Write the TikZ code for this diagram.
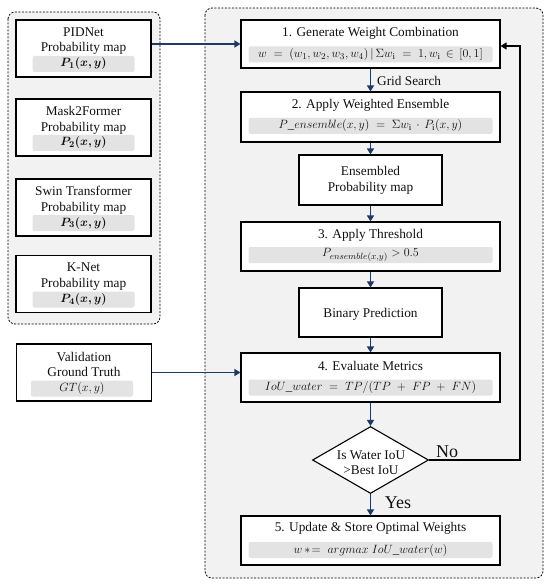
\documentclass[tikz,border=0pt]{standalone}
\usepackage{fontspec}
\setmainfont{Liberation Serif}[Ligatures=TeX]
\newfontfamily\tms{Liberation Serif}
\usepackage{amsmath,bm}
\usetikzlibrary{arrows.meta,shapes.geometric}
\definecolor{navy}{HTML}{1F3864}
\definecolor{grpbg}{HTML}{F2F2F2}
\definecolor{barbg}{HTML}{E3E3E3}
\definecolor{txt}{HTML}{111111}
\begin{document}
\begin{tikzpicture}[x=1pt,y=-1pt,
  every node/.style={font=\tms\fontsize{13.3}{15.7}\selectfont, inner sep=0pt, text=txt},
  grp/.style={draw, dash pattern=on 2pt off 1.5pt, line width=0.8pt, fill=grpbg, rounded corners=7pt},
  box/.style={draw, line width=1.1pt, fill=white, minimum width=#1},
  rbox/.style={box=259pt, minimum height=49pt},
  lbox/.style={box=135pt, minimum height=57pt},
  sbox/.style={box=143pt, minimum height=50pt},
  bar/.style={fill=barbg, rounded corners=2pt, minimum height=16pt, minimum width=#1, font=\tms\fontsize{12.8}{14}\selectfont},
  ttl/.style={align=center},
  arr/.style={draw=navy, line width=1.3pt, -{Triangle[length=6pt,width=7pt]}},
  looparr/.style={draw=black, line width=1.3pt, -{Triangle[length=6pt,width=7pt]}},
  dia/.style={diamond, draw, line width=1.1pt, fill=white, minimum width=116pt, minimum height=67pt}
]
\useasboundingbox (0,0) rectangle (550,588);

% groups
\draw[grp] (8,12) rectangle (160,324);
\draw[grp] (205,8) rectangle (543,578);

% left boxes
\node[lbox] (p1) at (83.5,48.5) {};
\node[ttl] (p1t) at (83.5,41) {PIDNet\\Probability map};
\node[bar=102pt] (p1f) at (83.5,64) {$\bm{P_1(x,y)}$};

\node[lbox] (p2) at (83.5,127.5) {};
\node[ttl] (p2t) at (83.5,120) {Mask2Former\\Probability map};
\node[bar=102pt] (p2f) at (83.5,143) {$\bm{P_2(x,y)}$};

\node[lbox] (p3) at (83.5,207.5) {};
\node[ttl] (p3t) at (83.5,200) {Swin Transformer\\Probability map};
\node[bar=102pt] (p3f) at (83.5,223) {$\bm{P_3(x,y)}$};

\node[lbox] (p4) at (83.5,284) {};
\node[ttl] (p4t) at (83.5,276.5) {K-Net\\Probability map};
\node[bar=102pt] (p4f) at (83.5,299.5) {$\bm{P_4(x,y)}$};

\node[lbox] (val) at (84,372.5) {};
\node[ttl] (valt) at (84,364.5) {Validation\\Ground Truth};
\node[bar=102pt] (valf) at (82,388.5) {$GT(x,y)$};

% right column
\node[rbox, minimum height=48pt] (b1) at (370.5,44) {};
\node[ttl] (b1t) at (370.5,33) {1. Generate Weight Combination};
\node[bar=244pt] (b1f) at (370.5,54.5) {$w \;=\; (w_1,w_2,w_3,w_4)\,|\,\Sigma w_{\mathrm{i}} \;=\; 1, w_{\mathrm{i}} \,\in\, [0,1]$};

\node[anchor=west] (gs) at (377,81) {Grid Search};

\node[rbox, minimum height=50pt] (b2) at (370.5,117) {};
\node[ttl] (b2t) at (370.5,105) {2. Apply Weighted Ensemble};
\node[bar=244pt] (b2f) at (370.5,126) {$P\_ensemble(x,y) \;=\; \Sigma w_{\mathrm{i}} \,\cdot\, P_{\mathrm{i}}(x,y)$};

\node[sbox] (ens) at (370.5,180) {};
\node[ttl] (enst) at (370.5,180) {Ensembled\\Probability map};

\node[rbox] (b3) at (370.5,246.5) {};
\node[ttl] (b3t) at (370.5,235) {3. Apply Threshold};
\node[bar=244pt] (b3f) at (370.5,255) {$P_{ensemble(x,y)} > 0.5$};

\node[box=143pt, minimum height=49pt] (bin) at (370.5,312.5) {};
\node[ttl] (bint) at (370.5,314) {Binary Prediction};

\node[rbox] (b4) at (370.5,377.5) {};
\node[ttl] (b4t) at (370.5,366) {4. Evaluate Metrics};
\node[bar=244pt] (b4f) at (370.5,387.5) {$IoU\_water \;=\; TP/(TP \;+\; FP \;+\; FN)$};

\node[dia] (d) at (370.5,460) {};
\node[ttl, font=\tms\fontsize{13.3}{15}\selectfont] (dt) at (371,462.5) {Is Water IoU\\>Best IoU};

\node[rbox] (b5) at (370.5,540.5) {};
\node[ttl] (b5t) at (370.5,528) {5. Update \& Store Optimal Weights};
\node[bar=244pt] (b5f) at (370.5,550) {$w\,{*}\!=\; argmax\; IoU\_water(w)$};

\node[font=\tms\fontsize{18}{20}\selectfont] (no) at (447,452) {No};
\node[font=\tms\fontsize{18}{20}\selectfont] (yes) at (398,503) {Yes};

% connectors
\draw[arr] (p1.east |- b1.west) -- (b1.west);
\draw[arr] (val.east) -- (val.east -| b4.west);
\draw[arr] (b1) -- (b2);
\draw[arr] (b2) -- (ens);
\draw[arr] (ens) -- (b3);
\draw[arr] (b3) -- (bin);
\draw[arr] (bin) -- (b4);
\draw[arr] (b4) -- (d);
\draw[arr] (d) -- (b5);
\coordinate (lp) at (520,460);
\draw[looparr] (d.east) -- (lp) |- ([yshift=-2pt]b1.east);
\end{tikzpicture}
\end{document}
